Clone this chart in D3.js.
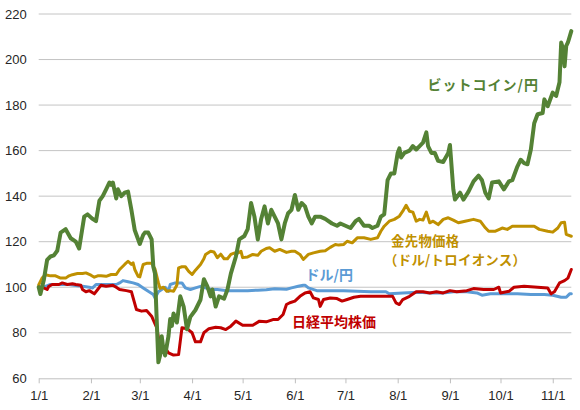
<!DOCTYPE html>
<html><head><meta charset="utf-8">
<script src="https://cdn.jsdelivr.net/npm/d3@7"></script>
<style>
html,body{margin:0;padding:0;background:#fff;}
svg{display:block;}
</style></head>
<body>
<svg id="chart" width="580" height="410"></svg>
<script>
// ---- data (days since 2020-01-01, index value: 1/1 = 100) ----
const startDate = "2020-01-01";
const endDate = "2020-11-12";
const yTicks = [60, 80, 100, 120, 140, 160, 180, 200, 220];

const btcDays = [0,1,3,5,7,9,11,13,16,19,22,24,27,29,32,34,36,38,40,42,43,44,46,47,49,51,53,55,57,60,62,63,65,67,68,69,70,71,72,73,74,75,77,78,79,80,82,84,86,88,90,93,96,98,100,102,103,105,107,110,112,114,117,119,122,124,126,128,130,132,134,136,138,140,142,144,146,148,150,152,154,156,158,160,162,164,167,170,174,177,179,182,185,188,190,193,196,198,201,203,205,207,209,211,213,214,215,217,220,222,224,226,228,230,231,233,235,237,240,243,244,246,247,250,252,255,258,261,263,265,267,269,273,276,279,281,284,286,288,290,292,294,296,299,300,302,305,307,309,310,311,312,313,314,316];
const btcVals = [100,97,103,112,113.5,114,116,124,125.5,121.5,120,117,131,132,130,129,138,140,143,146,145,146,139,143,140,141.5,142,134,125,119,123,124,124,121,109,106,86,67,70,78.5,72.5,70,78.5,86,83,88.5,84.5,96,91.5,81.5,87,90,94.5,103.5,100.5,96,99,91.5,96,95,99,106,113.5,121,122.5,125.5,137,131,121,130,135.5,128,134,131,128,121,128,132.5,134,140.5,134,137,135.5,131,128,131,131,130,128,127,128,127,126,129,130,127,127,126,127,131,132,147,150,150,159,161,157,159,160,162,160.5,162,163.5,168,162,159,159,155.5,155,159,162.5,143,138.5,141.5,138.5,142,146.5,149,147,141.5,139,146,146.5,143,146.5,147,153,156,154.5,154,160.5,172,176,176.5,182.5,179.5,185.5,184,190,207.5,205,197,206,207.5,212.5];

const goldDays = [0,2,4,7,10,13,16,18,20,23,26,28,31,33,35,37,40,43,46,48,51,53,55,56,57,59,60,62,64,67,69,71,72,74,76,78,80,82,83,85,87,89,91,93,96,98,99,102,104,106,108,110,112,114,116,118,120,121,124,127,130,132,135,137,140,143,147,150,152,155,157,160,163,167,170,173,176,178,181,183,186,189,193,197,201,203,205,208,211,214,216,218,220,222,224,226,228,230,232,234,237,240,243,246,249,253,258,262,265,267,271,275,278,281,285,290,294,297,302,305,308,310,312,313,316];
const goldVals = [101,104,105.5,105,105,104,104,105,105.5,106,106,106.3,105.3,104.4,105,105,104.8,105.6,105.6,107.8,110,111.4,110,110.7,107.8,104.8,104.5,110,110.5,110.5,108,102,99.5,100,98.2,98.5,98.2,101,108.5,109,109,107,105.6,107.5,110,112.5,114.4,115.8,115.5,113,114.5,112.5,112.5,114.4,115,115,115.8,113,113.3,114.4,114,115.8,117,117.3,115.8,116.6,115.3,115.8,115.8,114.4,112.2,114.4,115.1,115.8,116,117.5,118.8,118.5,118.8,120.2,119.5,121.7,121.7,121,121.7,124.6,126.8,129,129.8,131.2,133.4,136,133.4,133,129,129.8,129.5,133,128.3,129,127.5,129.8,130.5,129.5,128.3,129,129.8,129,126.1,124.6,124.6,126,125.4,126.8,126.8,126.8,126.8,125.4,124.6,124.2,126,128.3,128.5,123.2,122.4];

const usdDays = [0,4,7,11,15,18,22,26,30,32,34,38,42,46,48,50,53,56,59,62,65,68,69,71,73,75,77,78,81,85,87,90,93,96,99,102,106,112,118,124,130,135,140,147,150,154,157,158,160,165,173,181,189,197,206,208,216,225,233,240,246,254,260,263,268,276,284,292,300,305,310,313,315,316];
const usdVals = [100,100.4,101.2,101.2,101.2,101.2,100.8,100.4,100,99.7,101.2,101.2,101.2,101.2,101.9,102.9,102.4,101.9,101.2,99.7,98.2,96.8,95.3,98,99,100,98.2,101.2,101.9,101.9,99.7,99,99.7,100.4,99.7,99,99,98.5,98.5,98.5,98.7,98.9,99.3,99.1,99.7,100.4,100.9,100.9,99.7,98.5,98.5,98.5,98.2,98,98,97.1,97.5,97.8,97.5,97.5,98,98,97.5,96.5,97.1,97.1,97.1,96.8,96.8,96.5,95.6,95.6,97.1,97.1];

const nkyDays = [0,2,5,6,8,12,14,17,20,22,25,26,28,30,33,35,37,40,44,46,48,52,55,58,61,64,67,70,72,75,77,80,83,85,88,91,93,96,98,101,105,108,111,114,117,121,127,131,135,139,142,145,147,149,152,155,158,161,163,166,167,169,173,177,180,183,187,191,197,203,210,212,214,216,220,224,228,232,236,240,244,248,254,258,264,270,273,274,279,282,288,296,302,304,306,309,312,314,316];
const nkyVals = [100,100,99,100.4,101.2,101.2,101.9,101.2,101.5,101.2,100.9,99,98,98.5,97.1,99,100.9,100.4,100.9,100,99,98.5,98,90.2,89.5,89.8,87.3,82.2,74,73.4,71.2,70.2,70.4,82.2,81.8,80,76,76,80,81.8,82.4,82.2,81.4,82.9,85.1,83.3,83.3,85.1,84.8,85.8,85.8,88,92.4,93.2,93.9,96,97.5,98,95.3,94.6,91.6,94.6,95.3,95,93.9,94.6,95.6,96,96,96,96,93.1,92.4,94.6,96,98,98,97.5,98,97.5,98.5,98,98.5,99.4,99,99,100,97.5,98.2,100,100.4,100,99.7,97.1,98,101.9,102.9,104,107.8];

const seriesNames = ["ドル/円", "金先物価格", "日経平均株価", "ビットコイン/円"];
const goldUnit = "（ドル/トロイオンス）";
const seriesColors = ["#5B9BD5", "#BF9000", "#C00000", "#548235"];

// ---- chart ----
const svg = d3.select("#chart");
const parse = d3.timeParse("%Y-%m-%d");
const t0 = parse(startDate);
const x = d3.scaleTime().domain([t0, parse(endDate)]).range([38.7, 571.3]);
const y = d3.scaleLinear().domain([60, 220]).range([378.3, 14]);

function build(days, vals) {
  return days.map((d, i) => ({ date: d3.timeDay.offset(t0, d), v: vals[i] }));
}
const series = [
  build(usdDays, usdVals),
  build(goldDays, goldVals),
  build(nkyDays, nkyVals),
  build(btcDays, btcVals)
];
const widths = [3, 3, 3, 4];

// gridlines
svg.append("g").selectAll("line").data(yTicks.filter(t => t > 60)).join("line")
  .attr("x1", x.range()[0]).attr("x2", x.range()[1])
  .attr("y1", d => y(d)).attr("y2", d => y(d))
  .attr("stroke", "#c4c4c4").attr("stroke-width", 1);

// y axis labels
const yAxis = svg.append("g").attr("transform", `translate(${x.range()[0]},0)`)
  .call(d3.axisLeft(y).tickValues(yTicks).tickSize(0).tickPadding(12));
yAxis.select(".domain").remove();
yAxis.selectAll("text").attr("font-family", "Liberation Sans, Arial, sans-serif")
  .attr("font-size", 13).attr("fill", "#262626");

// x axis
const xAxis = svg.append("g").attr("transform", `translate(0,${y(60)})`)
  .call(d3.axisBottom(x).ticks(d3.timeMonth.every(1)).tickFormat(d3.timeFormat("%-m/%-d"))
    .tickSize(5).tickPadding(7).tickSizeOuter(0));
xAxis.select(".domain").attr("stroke", "#bfbfbf");
xAxis.selectAll(".tick line").attr("stroke", "#bfbfbf");
xAxis.selectAll("text").attr("font-family", "Liberation Sans, Arial, sans-serif")
  .attr("font-size", 13).attr("fill", "#262626");

// lines
const line = d3.line().x(d => x(d.date)).y(d => y(d.v));
svg.append("g").selectAll("path").data(series).join("path")
  .attr("d", line)
  .attr("fill", "none")
  .attr("stroke", (d, i) => seriesColors[i])
  .attr("stroke-width", (d, i) => widths[i])
  .attr("stroke-linejoin", "round")
  .attr("stroke-linecap", "round");

// labels
const labelFont = "'Noto Sans CJK JP', 'Noto Sans', sans-serif";
const labels = [
  { lines: [seriesNames[3]], dx: [0], x: 427.5, y: 89.5, c: seriesColors[3], ls: 1, fs: 14, lh: 0 },
  { lines: [seriesNames[1], goldUnit], dx: [0, -7], x: 391, y: 245.5, c: seriesColors[1], ls: 0.3, fs: 13.4, lh: 19.5 },
  { lines: [seriesNames[0]], dx: [0], x: 305.5, y: 280, c: seriesColors[0], ls: 0, fs: 14, lh: 0 },
  { lines: [seriesNames[2]], dx: [0], x: 292, y: 326.5, c: seriesColors[2], ls: 0, fs: 14, lh: 0 }
];
const lab = svg.append("g").selectAll("text").data(labels).join("text")
  .attr("x", d => d.x).attr("y", d => d.y)
  .attr("fill", d => d.c)
  .attr("font-family", labelFont)
  .attr("font-weight", "bold")
  .attr("font-size", d => d.fs)
  .attr("letter-spacing", d => d.ls);
lab.each(function(d) {
  const t = d3.select(this);
  d.lines.forEach((s, i) => {
    t.append("tspan").attr("x", d.x + d.dx[i]).attr("y", d.y + i * d.lh).text(s);
  });
});
</script>
</body></html>
